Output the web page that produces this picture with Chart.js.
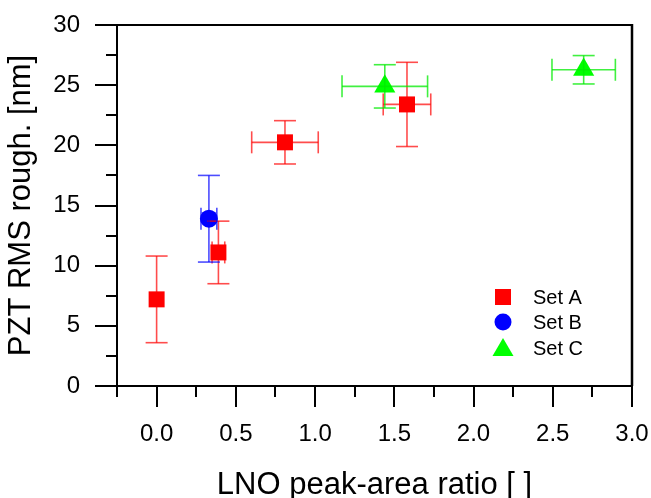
<!DOCTYPE html>
<html><head><meta charset="utf-8">
<script src="https://cdn.jsdelivr.net/npm/chart.js@4"></script>
<style>html,body{margin:0;padding:0;background:#fff}#wrap{width:651px;height:498px}</style>
</head><body><div id="wrap"><canvas id="c" width="651" height="498"></canvas></div>
<script>
const seriesNames = ['Set A', 'Set B', 'Set C'];
const setA_x = [0.00, 0.39, 0.81, 1.58];
const setA_y = [7.2, 11.1, 20.25, 23.4];
const setA_xErr = [0.00, 0.04, 0.21, 0.15];
const setA_yErr = [3.6, 2.6, 1.8, 3.5];
const setB_x = [0.33];
const setB_y = [13.9];
const setB_xErr = [0.05];
const setB_yErr = [3.6];
const setC_x = [1.44, 2.695];
const setC_y = [24.9, 26.28];
const setC_xErr = [0.27, 0.20];
const setC_yErr = [1.8, 1.18];
const xTicks = [0.0, 0.5, 1.0, 1.5, 2.0, 2.5, 3.0];
const xMinorTicks = [-0.25, 0.25, 0.75, 1.25, 1.75, 2.25, 2.75];
const yTicks = [0, 5, 10, 15, 20, 25, 30];
const yMinorTicks = [2.5, 7.5, 12.5, 17.5, 22.5, 27.5];
const xLabel = 'LNO peak-area ratio [ ]';
const yLabel = 'PZT RMS rough. [nm]';

const FONT = "'Liberation Sans', Arial, sans-serif";
const toPts = (xs, ys) => xs.map((v, i) => ({x: v, y: ys[i]}));

const datasets = [
  {label: seriesNames[0], data: toPts(setA_x, setA_y), xErr: setA_xErr, yErr: setA_yErr,
   pointStyle: 'rect', pointRadius: 11.3, backgroundColor: '#ff0000', errorColor: 'rgba(255,0,0,0.7)'},
  {label: seriesNames[1], data: toPts(setB_x, setB_y), xErr: setB_xErr, yErr: setB_yErr,
   pointStyle: 'circle', pointRadius: 9, backgroundColor: '#0000ff', errorColor: 'rgba(0,0,255,0.7)'},
  {label: seriesNames[2], data: toPts(setC_x, setC_y), xErr: setC_xErr, yErr: setC_yErr,
   pointStyle: 'triangle', pointRadius: 12.2, backgroundColor: '#00ff00', errorColor: 'rgba(0,235,0,0.75)'}
].map(d => Object.assign(d, {pointBorderWidth: 0, borderColor: d.backgroundColor, pointHoverRadius: d.pointRadius, showLine: false}));

function seg(ctx, x1, y1, x2, y2) { ctx.beginPath(); ctx.moveTo(x1, y1); ctx.lineTo(x2, y2); ctx.stroke(); }

const errorBars = {
  id: 'errorBars',
  afterDatasetsDraw(chart) {
    const {ctx} = chart, xs = chart.scales.x, ys = chart.scales.y;
    const cap = 11;
    chart.data.datasets.forEach(ds => {
      ctx.save();
      ctx.strokeStyle = ds.errorColor; ctx.lineWidth = 1.6;
      ds.data.forEach((p, i) => {
        const px = xs.getPixelForValue(p.x), py = ys.getPixelForValue(p.y);
        const ye = ds.yErr[i], xe = ds.xErr[i];
        if (ye > 0) {
          const t = ys.getPixelForValue(p.y + ye), b = ys.getPixelForValue(p.y - ye);
          seg(ctx, px, t, px, b); seg(ctx, px - cap, t, px + cap, t); seg(ctx, px - cap, b, px + cap, b);
        }
        if (xe > 0) {
          const l = xs.getPixelForValue(p.x - xe), r = xs.getPixelForValue(p.x + xe);
          seg(ctx, l, py, r, py); seg(ctx, l, py - cap, l, py + cap); seg(ctx, r, py - cap, r, py + cap);
        }
      });
      ctx.restore();
    });
  }
};

const frameAndMinor = {
  id: 'frameAndMinor',
  afterDraw(chart) {
    const {ctx, chartArea: a} = chart, xs = chart.scales.x, ys = chart.scales.y;
    ctx.save();
    ctx.strokeStyle = '#000';
    ctx.lineWidth = 2;
    xMinorTicks.forEach(v => { const px = Math.round(xs.getPixelForValue(v)); seg(ctx, px, a.bottom, px, a.bottom + 11); });
    yMinorTicks.forEach(v => { const py = Math.round(ys.getPixelForValue(v)); seg(ctx, a.left, py, a.left - 11, py); });
    ctx.lineWidth = 2;
    seg(ctx, a.left, a.top, a.right + 1, a.top);
    ctx.lineWidth = 2.5;
    seg(ctx, a.right, a.top - 1, a.right, a.bottom);
    // legend
    const mx = a.right - 129, tx = a.right - 99;
    const rows = [a.top + 272, a.top + 297, a.top + 323];
    ctx.font = '20px ' + FONT;
    ctx.textBaseline = 'middle';
    ctx.textAlign = 'left';
    chart.data.datasets.forEach((ds, i) => {
      const cy = rows[i];
      ctx.fillStyle = ds.backgroundColor;
      ctx.beginPath();
      if (ds.pointStyle === 'rect') ctx.rect(mx - 8, cy - 8, 16, 16);
      else if (ds.pointStyle === 'circle') ctx.arc(mx, cy, 8.5, 0, Math.PI * 2);
      else { ctx.moveTo(mx, cy - 10); ctx.lineTo(mx + 10.5, cy + 8); ctx.lineTo(mx - 10.5, cy + 8); ctx.closePath(); }
      ctx.fill();
      ctx.fillStyle = '#000';
      ctx.fillText(ds.label, tx, cy + 1);
    });
    ctx.restore();
  }
};

new Chart(document.getElementById('c'), {
  type: 'scatter',
  data: {datasets},
  options: {
    responsive: false, animation: false, devicePixelRatio: 1,
    layout: {padding: {left: 0, top: 25, right: 19, bottom: 0}},
    plugins: {legend: {display: false}, tooltip: {enabled: false}},
    scales: {
      x: {
        type: 'linear', min: -0.25, max: 3.0,
        afterBuildTicks: s => { s.ticks = xTicks.map(v => ({value: v})); },
        afterFit: s => { s.height = 112; s.paddingLeft = 0; s.paddingRight = 0; },
        ticks: {callback: v => Number(v).toFixed(1), color: '#000', font: {size: 24, family: FONT}, padding: 13, maxRotation: 0, autoSkip: false},
        grid: {display: true, drawOnChartArea: false, drawTicks: true, tickLength: 21, color: '#000', lineWidth: 2},
        border: {display: true, color: '#000', width: 2},
        title: {display: true, text: xLabel, color: '#000', font: {size: 31, family: FONT, lineHeight: 1}, padding: {top: 0, bottom: -3}}
      },
      y: {
        type: 'linear', min: 0, max: 30,
        afterBuildTicks: s => { s.ticks = yTicks.map(v => ({value: v})); },
        afterFit: s => { s.width = 117; s.paddingTop = 0; s.paddingBottom = 0; },
        ticks: {color: '#000', font: {size: 24, family: FONT}, padding: 15, autoSkip: false},
        grid: {display: true, drawOnChartArea: false, drawTicks: true, tickLength: 22, color: '#000', lineWidth: 2},
        border: {display: true, color: '#000', width: 2},
        title: {display: true, text: yLabel, color: '#000', font: {size: 31, family: FONT, lineHeight: 1}, padding: {top: 5.5, bottom: 0}}
      }
    }
  },
  plugins: [errorBars, frameAndMinor]
});
</script>
</body></html>
